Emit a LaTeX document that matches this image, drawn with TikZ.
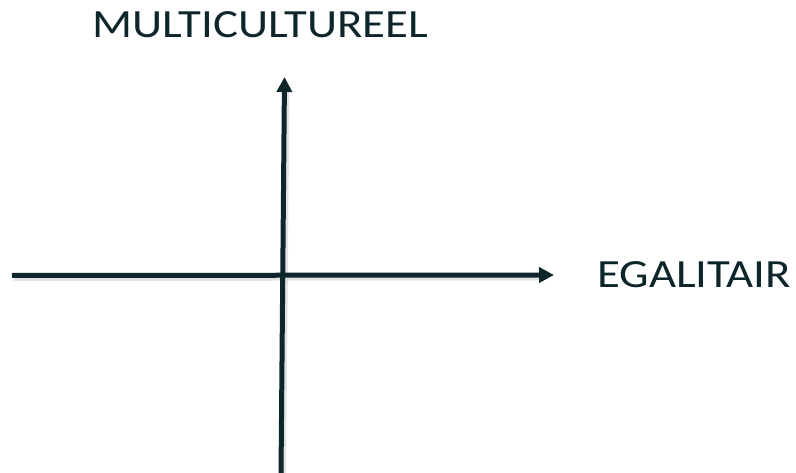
\documentclass[tikz,border=0pt]{standalone}
\usepackage{fontspec}
\setmainfont{Carlito}
\usetikzlibrary{positioning,arrows.meta}
\definecolor{axisdark}{RGB}{12,38,43}
\begin{document}
\begin{tikzpicture}[x=1pt,y=1pt, axis/.style={-{Triangle[width=15pt,length=15pt]}, line width=5pt, axisdark}, shade line/.style={line width=6pt, black!18, opacity=.6}, axislabel/.style={inner sep=0pt, axisdark, font=\fontsize{40}{40}\selectfont, xscale=1.17}]
	\useasboundingbox (0,0) rectangle (796,473);
	\coordinate (xstart) at (12,197.5);
	\coordinate (xend) at (554,198);
	\coordinate (ystart) at (281,-2);
	\coordinate (yend) at (284.5,396);

	% shadows
	\draw [shade line] ([shift={(1.5,-2.5)}]xstart) -- ([shift={(-12,-2.5)}]xend);
	\draw [shade line] ([shift={(2,-2)}]ystart) -- ([shift={(2,-14)}]yend);

	\draw [axis] (xstart) -- (xend);
	\draw [axis] (ystart) -- (yend);

	\node (egal) [axislabel, anchor=base west] at (597,185) {EGALITAIR};
	\node (multi) [axislabel, anchor=base west] at (92,435) {MULTICULTUREEL};
\end{tikzpicture}
\end{document}
